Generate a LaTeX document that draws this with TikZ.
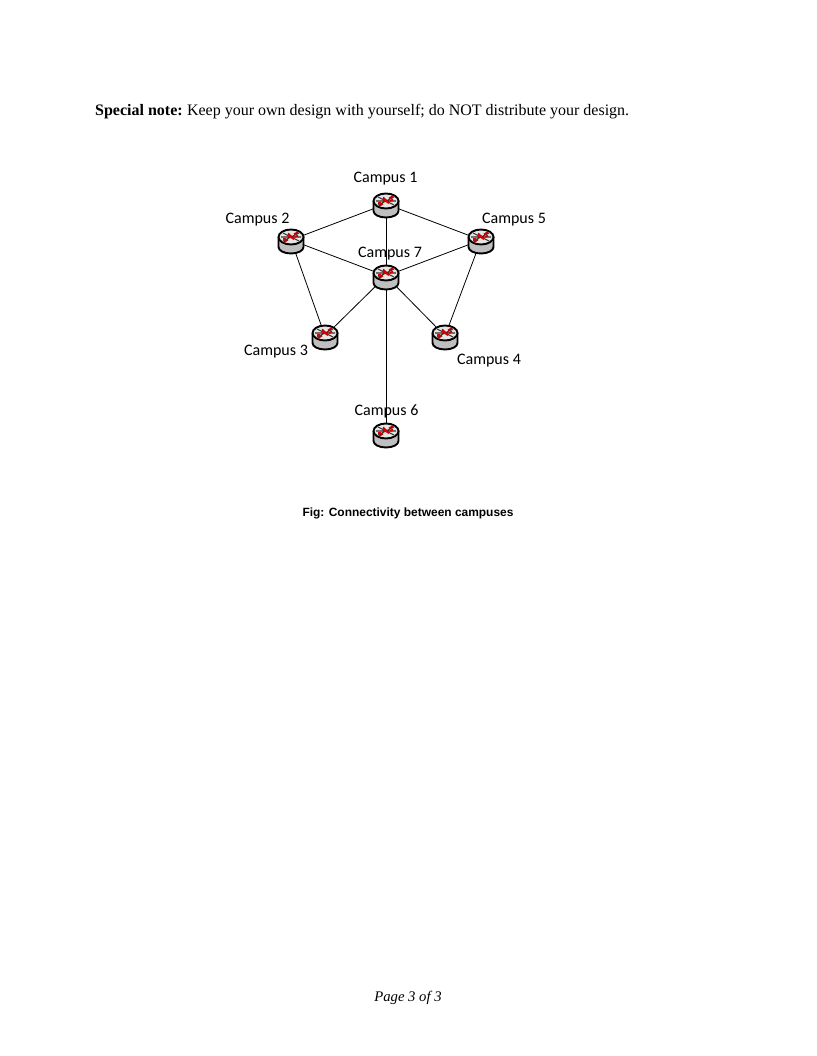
\documentclass[tikz,border=0pt]{standalone}
\usepackage{fontspec}
\setmainfont{Liberation Serif}
\newfontfamily\labelfont{Carlito}
\newfontfamily\capfont{Liberation Sans}
\usetikzlibrary{backgrounds}
\tikzset{
  router/.style={minimum width=30pt,minimum height=30pt,inner sep=0pt,
    path picture={
      \begin{scope}[shift={(path picture bounding box.center)},x=1pt,y=-1pt]
        \draw[line width=1.9pt,fill=black!25] (-12.5,-3) -- (-12.5,7) arc[start angle=180,end angle=0,x radius=12.5,y radius=6.5] -- (12.5,-3);
        \draw[line width=1.9pt,fill=white!90!black] (0,-3) ellipse[x radius=12.5,y radius=7.5];
        \draw[black!80,line width=1.1pt] (-8,-7) -- (8,1) (8,-7) -- (-8,1) (-10,-3) -- (10,-3);
        \draw[red!75!black,line width=1.8pt] (-7,2) -- (-3,-0.5) (7,-8) -- (3,-5.5) (-3,-6.5) -- (3,-1);
        \draw[red!85!black,line width=1.8pt] (-3,-4.5) -- (3,-1) (-8,-1) -- (-5,-1) (4,-3) -- (7,-4.5);
      \end{scope}}},
  camlabel/.style={font=\labelfont\fontsize{16}{18}\selectfont,inner sep=0pt},
  link/.style={draw=black,line width=0.8pt}
}
\begin{document}
\begin{tikzpicture}[x=1pt,y=-1pt]
  \useasboundingbox (0,0) rectangle (816,1056);

  \node[anchor=base west,inner sep=0pt,font=\fontsize{16}{18}\selectfont] (note) at (95,115.5)
    {\textbf{Special note:}\hspace{-1pt} Keep your own design with yourself; do NOT distribute your design.};

  \node[router] (c1) at (386,204) {};
  \node[router] (c2) at (291,240) {};
  \node[router] (c5) at (481,240) {};
  \node[router] (c7) at (386,276) {};
  \node[router] (c3) at (325,336) {};
  \node[router] (c4) at (445,336) {};
  \node[router] (c6) at (386,434) {};

  \begin{scope}[on background layer]
    \draw[link] (c1.center) -- (c2.center);
    \draw[link] (c1.center) -- (c5.center);
    \draw[link] (c1.center) -- (c7.center);
    \draw[link] (c2.center) -- (c7.center);
    \draw[link] (c5.center) -- (c7.center);
    \draw[link] (c2.center) -- (c3.center);
    \draw[link] (c5.center) -- (c4.center);
    \draw[link] (c7.center) -- (c3.center);
    \draw[link] (c7.center) -- (c4.center);
    \draw[link] (c7.center) -- (c6.center);
  \end{scope}

  \node[camlabel] (l1) at (385.5,179) {Campus 1};
  \node[camlabel] (l2) at (257.5,220) {Campus 2};
  \node[camlabel] (l5) at (514,220) {Campus 5};
  \node[camlabel] (l7) at (390,254) {Campus 7};
  \node[camlabel] (l3) at (276,352) {Campus 3};
  \node[camlabel] (l4) at (489,361) {Campus 4};
  \node[camlabel] (l6) at (386.5,411) {Campus 6};

  \node[inner sep=0pt,font=\capfont\bfseries\fontsize{11.95}{14}\selectfont] (cap) at (408,513)
    {Fig: Connectivity between campuses};
  \node[inner sep=0pt,font=\itshape\fontsize{14.67}{17}\selectfont] (page) at (408,998)
    {Page 3 of 3};
\end{tikzpicture}
\end{document}
